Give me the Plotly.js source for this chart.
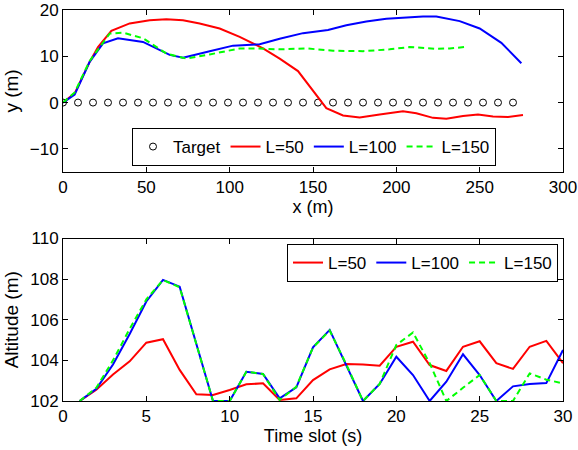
<!DOCTYPE html>
<html>
<head>
<meta charset="utf-8">
<script src="https://cdn.plot.ly/plotly-3.0.1.min.js"></script>
<style>html,body{margin:0;padding:0;background:#fff;}</style>
</head>
<body>
<div id="chart" style="width:578px;height:450px;"></div>
<script>
// Top panel: trajectories (x, y in metres)
const targetX = [0,9,18,27,36,45,54,63,72,81,90,99,108,117,126,135,144,153,162,171,180,189,198,207,216,225,234,243,252,261,270];
const targetY = targetX.map(function(){ return 0; });

const l50X = [0,7,16,21,29,40,52,62,72,82,94,106,120,130,141,158,168,178,190,204,212,222,230,240,249,258,267,276];
const l50Y = [0,2,8.8,12,15.5,17.1,17.8,18,17.8,17.1,16,14.2,11.7,9.5,6.8,-1.2,-2.8,-3.2,-2.6,-1.9,-2.3,-3.3,-3.5,-2.9,-2.6,-3.0,-3.1,-2.7];

const l100X = [0,7,16,24,33,48,64,72,88,102,118,130,144,159,170,182,194,208,216,224,238,250,263,275];
const l100Y = [0,1.7,8.8,12.8,13.9,13.1,10.3,9.7,11.1,12.3,12.6,13.8,15,15.7,16.7,17.5,18.1,18.4,18.6,18.6,17.6,16,12.9,8.5];

const l150X = [0,7,16,28,36,48,62,74,88,106,116,130,146,162,180,196,208,224,232,241];
const l150Y = [0,2.2,9,14.9,15.1,13.9,10.6,9.5,10.4,11.7,11.7,11.5,11.7,11.2,11.1,11.5,12,11.6,11.7,12];

// Bottom panel: altitude per time slot
const timeSlots = [1,2,3,4,5,6,7,8,9,10,11,12,13,14,15,16,17,18,19,20,21,22,23,24,25,26,27,28,29,30];
const altL50  = [102,102.55,103.3,103.95,104.87,105.04,103.53,102.33,102.3,102.54,102.82,102.87,102.05,102.13,103.03,103.56,103.82,103.8,103.74,104.67,104.92,103.77,103.48,104.67,104.94,103.86,103.58,104.67,104.96,103.86];
const altL100 = [102,102.6,103.8,105.3,106.9,107.96,107.63,104.84,102,102,103.44,103.33,102.13,102.67,104.64,105.5,103.77,102,102.84,104.18,103.28,102,102.95,104.3,103.28,102,102.72,102.84,102.88,104.51];
const altL150 = [102,102.65,104.0,105.55,107.0,107.96,107.6,104.84,102,102,103.44,103.33,102.05,102.7,104.64,105.47,103.8,102,102.84,104.76,105.37,103.86,102.0,102.65,103.28,102,102,103.36,103.05,102.87];

const seriesNames = ['L=50','L=100','L=150'];
const seriesColors = ['#ff0000','#0000ff','#00ff00'];

const fam = 'Liberation Sans, Arial, Helvetica, sans-serif';
const tickFont = {family: fam, size: 17, color: '#000'};
const titleFont = {family: fam, size: 18, color: '#000'};
const yTitleFont = {family: fam, size: 19, color: '#000'};
const legendFont = {family: fam, size: 17, color: '#000'};

const traces = [
  {x: targetX, y: targetY, type: 'scatter', mode: 'markers', name: 'Target',
   marker: {symbol: 'circle-open', size: 7, color: '#000', line: {width: 1, color: '#000'}},
   xaxis: 'x', yaxis: 'y', legend: 'legend'},
  {x: l50X, y: l50Y, type: 'scatter', mode: 'lines', name: seriesNames[0],
   line: {color: seriesColors[0], width: 2}, xaxis: 'x', yaxis: 'y', legend: 'legend'},
  {x: l100X, y: l100Y, type: 'scatter', mode: 'lines', name: seriesNames[1],
   line: {color: seriesColors[1], width: 2}, xaxis: 'x', yaxis: 'y', legend: 'legend'},
  {x: l150X, y: l150Y, type: 'scatter', mode: 'lines', name: seriesNames[2],
   line: {color: seriesColors[2], width: 2, dash: '6px,4px'}, xaxis: 'x', yaxis: 'y', legend: 'legend'},
  {x: timeSlots, y: altL50, type: 'scatter', mode: 'lines', name: seriesNames[0],
   line: {color: seriesColors[0], width: 2}, xaxis: 'x2', yaxis: 'y2', legend: 'legend2'},
  {x: timeSlots, y: altL100, type: 'scatter', mode: 'lines', name: seriesNames[1],
   line: {color: seriesColors[1], width: 2}, xaxis: 'x2', yaxis: 'y2', legend: 'legend2'},
  {x: timeSlots, y: altL150, type: 'scatter', mode: 'lines', name: seriesNames[2],
   line: {color: seriesColors[2], width: 2, dash: '6px,4px'}, xaxis: 'x2', yaxis: 'y2', legend: 'legend2'}
];

const axisCommon = {
  showline: true, linecolor: '#000', linewidth: 1, mirror: 'ticks',
  ticks: 'inside', ticklen: 5, tickcolor: '#000', tickwidth: 1,
  showgrid: false, zeroline: false, tickfont: tickFont
};

const layout = {
  width: 578, height: 450,
  margin: {l: 63, r: 15, t: 10, b: 49},
  paper_bgcolor: '#fff', plot_bgcolor: '#fff',
  font: tickFont,
  showlegend: true,
  xaxis: Object.assign({}, axisCommon, {domain: [0,1], anchor: 'y', range: [0,300], dtick: 50,
    title: {text: 'x (m)', font: titleFont, standoff: 0}}),
  yaxis: Object.assign({}, axisCommon, {domain: [0.5857,1], anchor: 'x', range: [-15,20], dtick: 10,
    title: {text: 'y (m)', font: yTitleFont, standoff: 6}}),
  xaxis2: Object.assign({}, axisCommon, {domain: [0,1], anchor: 'y2', range: [0,30], dtick: 5,
    title: {text: 'Time slot (s)', font: titleFont, standoff: 0}}),
  yaxis2: Object.assign({}, axisCommon, {domain: [0,0.4156], anchor: 'x2', range: [102,110], dtick: 2,
    title: {text: 'Altitude (m)', font: yTitleFont, standoff: 6}}),
  legend: {orientation: 'h', x: 0.502, xanchor: 'center', y: 0.601, yanchor: 'bottom',
    bgcolor: '#fff', bordercolor: '#000', borderwidth: 1, font: legendFont,
    itemwidth: 30, tracegroupgap: 0},
  legend2: {orientation: 'h', x: 0.99, xanchor: 'right', y: 0.4015, yanchor: 'top',
    bgcolor: '#fff', bordercolor: '#000', borderwidth: 1, font: legendFont,
    itemwidth: 30, tracegroupgap: 0}
};

Plotly.newPlot('chart', traces, layout, {staticPlot: true, displayModeBar: false});
</script>
</body>
</html>
